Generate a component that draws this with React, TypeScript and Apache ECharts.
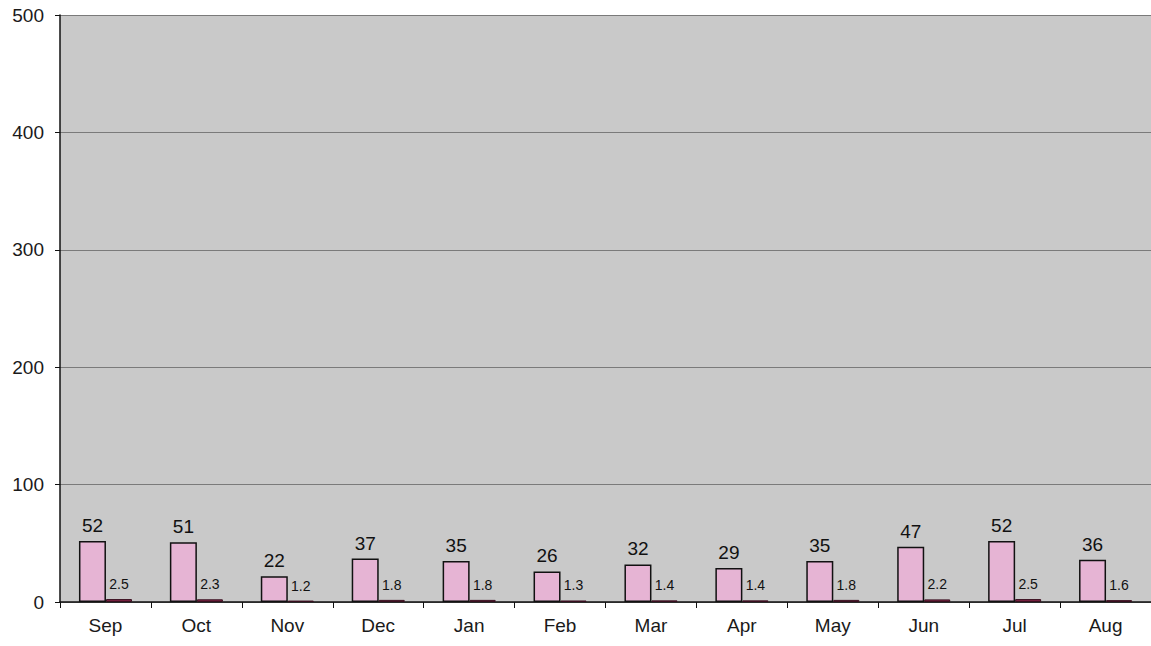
import React, { useEffect, useRef } from "react";
import * as echarts from "echarts";

const months = ["Sep", "Oct", "Nov", "Dec", "Jan", "Feb", "Mar", "Apr", "May", "Jun", "Jul", "Aug"];
const seriesA = [52, 51, 22, 37, 35, 26, 32, 29, 35, 47, 52, 36];
const seriesB = [2.5, 2.3, 1.2, 1.8, 1.8, 1.3, 1.4, 1.4, 1.8, 2.2, 2.5, 1.6];
const yTicks = [0, 100, 200, 300, 400, 500];

export default function App() {
  const ref = useRef<HTMLDivElement>(null);
  useEffect(() => {
    document.body.style.margin = "0";
    const chart = echarts.init(ref.current!, null, { renderer: "svg" });
    chart.setOption({
      animation: false,
      textStyle: { fontFamily: "Liberation Sans, Arial, sans-serif" },
      grid: {
        left: 60,
        right: -3,
        top: 15,
        bottom: 44,
        show: true,
        backgroundColor: "#c9c9c9",
        borderWidth: 0,
      },
      xAxis: {
        type: "category",
        data: months,
        axisLine: { lineStyle: { color: "#111", width: 1.5 } },
        axisTick: { show: true, length: 6, lineStyle: { color: "#111" } },
        axisLabel: { color: "#1a1a1a", fontSize: 19, margin: 14 },
      },
      yAxis: {
        type: "value",
        min: yTicks[0],
        max: yTicks[yTicks.length - 1],
        interval: 100,
        axisLine: { show: true, lineStyle: { color: "#111", width: 1.5 } },
        axisTick: { show: true, length: 5, lineStyle: { color: "#111" } },
        axisLabel: { color: "#1a1a1a", fontSize: 19, margin: 16 },
        splitLine: { show: true, lineStyle: { color: "#7a7a7a", width: 1 } },
      },
      series: [
        {
          type: "bar",
          data: seriesA,
          barWidth: 27,
          barGap: "0%",
          itemStyle: { color: "#e6b4d4", borderColor: "#111", borderWidth: 1.5 },
          label: { show: true, position: "top", color: "#111", fontSize: 19, distance: 6 },
        },
        {
          type: "bar",
          data: seriesB,
          barWidth: 26,
          barGap: "0%",
          itemStyle: { color: "#7a2240", borderColor: "#3a1020", borderWidth: 1 },
          label: { show: true, position: "top", color: "#111", fontSize: 14, distance: 8 },
        },
      ],
    });
    return () => chart.dispose();
  }, []);
  return <div ref={ref} style={{ width: 1151, height: 646 }} />;
}
